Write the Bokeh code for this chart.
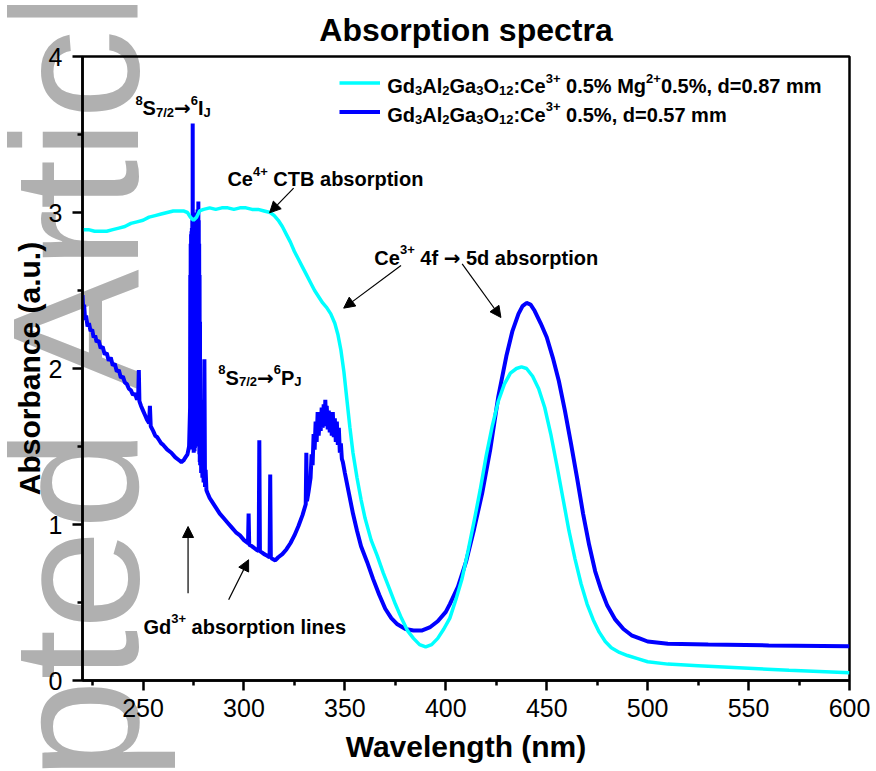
from bokeh.plotting import figure
from bokeh.models import (Range1d, Label, Arrow, NormalHead, Legend, LegendItem,
                          FixedTicker, Div)
from bokeh.layouts import column
from bokeh.embed import file_html
from bokeh.resources import INLINE

# ---------------- data ----------------
# blue: Gd3Al2Ga3O12:Ce 0.5%, d=0.57 mm
blue_wl_uv = [220.0, 220.4, 220.8, 221.3, 221.8, 222.5, 223.2, 224.0, 224.8, 225.5,
              226.3, 227.0, 228.0, 229.0, 230.0, 231.0, 232.0, 233.0, 234.0, 235.0,
              236.0, 237.0, 238.0, 239.0, 240.0, 241.0, 242.0, 243.0, 244.0, 245.0,
              246.0, 247.0, 247.6, 247.9, 248.2, 249.0, 250.0, 251.0, 252.0, 253.0,
              253.4, 253.8, 255.0, 256.0, 257.0, 258.0, 259.0, 260.0, 262.0, 264.0,
              266.0, 268.0, 269.0, 270.0, 271.0, 272.0, 272.8, 273.2]
blue_abs_uv = [2.47, 2.36, 2.41, 2.31, 2.34, 2.27, 2.29, 2.24, 2.25, 2.20,
               2.21, 2.17, 2.18, 2.13, 2.14, 2.09, 2.10, 2.05, 2.07, 2.02,
               2.03, 1.98, 1.99, 1.94, 1.95, 1.91, 1.90, 1.87, 1.86, 1.83,
               1.84, 1.80, 1.82, 1.99, 1.79, 1.76, 1.73, 1.70, 1.67, 1.65,
               1.76, 1.63, 1.60, 1.57, 1.56, 1.54, 1.52, 1.51, 1.48, 1.46,
               1.43, 1.41, 1.40, 1.41, 1.43, 1.45, 1.50, 1.70]
# Gd3+ 8S7/2 -> 6IJ line cluster
blue_wl_6i = [273.3, 273.4, 273.5, 273.6, 273.7, 273.8, 273.9, 274.0, 274.1, 274.2,
              274.3, 274.4, 274.5, 274.6, 274.7, 274.8, 274.9, 275.0, 275.1, 275.2,
              275.3, 275.4, 275.5, 275.6, 275.7, 275.8, 275.9, 276.0, 276.1, 276.2,
              276.3, 276.4, 276.5, 276.6, 276.7, 276.8, 276.9, 277.0, 277.1, 277.2,
              277.3, 277.4, 277.5, 277.6, 277.7, 277.8, 277.9, 278.0, 278.1, 278.2,
              278.3, 278.5, 278.8, 279.1, 279.4, 279.7, 280.0, 280.4, 280.7, 281.0,
              281.4]
blue_abs_6i = [1.75, 2.60, 1.55, 2.80, 1.50, 2.86, 1.48, 2.88, 1.50, 2.90,
               1.52, 2.95, 1.55, 3.57, 1.52, 2.92, 1.48, 2.90, 1.46, 2.88,
               1.50, 2.91, 1.47, 2.89, 1.49, 2.93, 1.52, 2.92, 1.50, 2.96,
               1.53, 2.98, 1.55, 3.00, 1.52, 2.97, 1.56, 3.02, 1.58, 3.00,
               1.55, 3.07, 1.52, 2.95, 1.50, 2.80, 1.45, 2.60, 1.40, 2.30,
               1.38, 1.80, 1.33, 1.65, 1.30, 1.48, 1.27, 2.06, 1.24, 1.35,
               1.22]
blue_wl_vis = [282.0, 283.0, 284.0, 286.0,
               288.0, 290.0, 292.0, 294.0, 296.0, 298.0, 300.0, 302.0, 302.3, 302.6,
               304.0, 306.0, 307.3, 307.6, 307.9, 309.0, 310.0, 311.5, 312.7, 313.0,
               313.3, 314.0, 315.5, 317.0, 319.0, 321.0, 323.0, 325.0, 327.0, 329.0,
               330.6, 330.9, 331.2, 332.0, 333.0, 333.5, 334.0, 334.5, 335.0, 335.5,
               336.0, 336.5, 337.0, 337.5, 338.0, 338.5, 339.0, 339.5, 340.0, 340.3,
               340.7, 341.0, 341.5, 342.0, 342.5, 343.0, 343.5, 344.0, 344.5, 345.0,
               345.5, 346.0, 346.5, 347.0, 347.5, 348.0, 348.5, 349.0, 350.0, 352.0,
               354.0, 356.0, 358.0, 361.0, 364.0, 367.0, 370.0, 373.0, 376.0, 380.0,
               384.0, 388.0, 392.0, 396.0, 400.0, 402.0, 406.0, 410.0, 414.0, 418.0,
               422.0, 426.0, 430.0, 433.0, 436.0, 438.0, 440.0, 442.0, 444.0, 447.0,
               450.0, 453.0, 456.0, 459.0, 462.0, 465.0, 468.0, 471.0, 474.0, 477.0,
               480.0, 484.0, 488.0, 492.0, 496.0, 500.0, 510.0, 530.0, 560.0, 600.0]
blue_abs_vis = [1.20, 1.17, 1.15, 1.11,
                1.07, 1.04, 1.01, 0.98, 0.95, 0.93, 0.90, 0.88, 1.07, 0.87,
                0.86, 0.84, 0.83, 1.54, 0.83, 0.82, 0.81, 0.80, 0.79, 1.32,
                0.79, 0.78, 0.77, 0.79, 0.81, 0.84, 0.88, 0.93, 0.99, 1.06,
                1.13, 1.46, 1.15, 1.21, 1.30, 1.45, 1.38, 1.58, 1.48, 1.66,
                1.53, 1.72, 1.57, 1.67, 1.60, 1.75, 1.62, 1.77, 1.64, 1.80,
                1.63, 1.76, 1.61, 1.73, 1.59, 1.71, 1.57, 1.72, 1.56, 1.68,
                1.53, 1.66, 1.51, 1.62, 1.46, 1.52, 1.42, 1.40, 1.33, 1.20,
                1.07, 0.96, 0.86, 0.76, 0.65, 0.55, 0.46, 0.40, 0.36, 0.33,
                0.32, 0.32, 0.34, 0.38, 0.44, 0.49, 0.60, 0.76, 0.97, 1.20,
                1.48, 1.82, 2.08, 2.24, 2.35, 2.40, 2.42, 2.41, 2.37, 2.29,
                2.20, 2.07, 1.92, 1.73, 1.52, 1.30, 1.07, 0.87, 0.70, 0.58,
                0.48, 0.39, 0.33, 0.29, 0.27, 0.25, 0.235, 0.23, 0.225, 0.22]

# cyan: Gd3Al2Ga3O12:Ce 0.5% Mg 0.5%, d=0.87 mm
cyan_wl = [220, 223, 226, 229, 232, 235, 238, 241, 244, 247, 250, 253, 256, 259,
           262, 265, 268, 270, 272, 273.5, 275, 276.5, 278, 280, 283, 286, 289,
           292, 295, 298, 301, 304, 307, 310, 313, 315, 317, 319, 321, 323, 325,
           327, 329, 331, 333, 335, 337, 339, 341, 343, 345, 346.5, 348, 349.5,
           351, 352.5, 354, 356, 358, 360, 363, 366, 369, 372, 375, 378, 381,
           384, 387, 390, 393, 396, 399, 402, 405, 408, 411, 414, 417, 420, 423,
           426, 429, 432, 435, 437.5, 440, 443, 446, 449, 452, 455, 458, 461,
           464, 467, 470, 473, 476, 479, 482, 486, 490, 495, 500, 510, 525, 540,
           555, 570, 585, 600]
cyan_abs = [2.89, 2.89, 2.88, 2.88, 2.88, 2.89, 2.90, 2.91, 2.93, 2.94, 2.95, 2.97,
            2.98, 2.99, 3.00, 3.01, 3.01, 3.01, 3.00, 2.97, 2.95, 2.97, 3.01, 3.02,
            3.03, 3.02, 3.03, 3.03, 3.02, 3.03, 3.03, 3.02, 3.02, 3.01, 3.00, 2.98,
            2.95, 2.91, 2.86, 2.81, 2.75, 2.70, 2.65, 2.60, 2.55, 2.50, 2.46, 2.42,
            2.39, 2.35, 2.29, 2.22, 2.12, 1.98, 1.80, 1.62, 1.46, 1.30, 1.16, 1.04,
            0.90, 0.80, 0.69, 0.59, 0.49, 0.40, 0.32, 0.27, 0.23, 0.215, 0.23, 0.27,
            0.33, 0.40, 0.52, 0.65, 0.83, 1.02, 1.22, 1.44, 1.63, 1.79, 1.90, 1.97,
            2.00, 2.01, 2.00, 1.95, 1.87, 1.75, 1.58, 1.38, 1.17, 0.96, 0.78, 0.62,
            0.49, 0.39, 0.31, 0.25, 0.21, 0.18, 0.16, 0.14, 0.12, 0.105, 0.095,
            0.085, 0.075, 0.065, 0.058, 0.05]

x_ticks = [250, 300, 350, 400, 450, 500, 550, 600]
x_minor = [225, 275, 325, 375, 425, 475, 525, 575]
y_ticks = [0, 1, 2, 3, 4]
y_minor = [0.5, 1.5, 2.5, 3.5]

blue_wl = blue_wl_uv + blue_wl_6i + blue_wl_vis
blue_abs = blue_abs_uv + blue_abs_6i + blue_abs_vis
assert len(blue_wl) == len(blue_abs) and len(cyan_wl) == len(cyan_abs)

CYAN = "#00FFFF"
BLUE = "#0000FF"
FONT = "Liberation Sans"
ARROW_FONT = "DejaVu Sans"

# ---------------- figure ----------------
p = figure(frame_width=767, frame_height=624,
           x_range=Range1d(220, 600), y_range=Range1d(0, 4),
           output_backend="svg", toolbar_location=None,
           min_border_left=82, min_border_right=27,
           min_border_top=55, min_border_bottom=92)
p.xgrid.visible = False
p.ygrid.visible = False
p.outline_line_color = "black"
p.outline_line_width = 2.5
p.background_fill_color = None
p.border_fill_color = None
p.styles = {"position": "relative", "z-index": "1"}

p.title.text = "Absorption spectra"
p.title.align = "center"
p.title.text_font = FONT
p.title.text_font_size = "32px"
p.title.text_font_style = "bold"
p.title.text_color = "black"
p.title.standoff = 18

for ax in (p.xaxis[0], p.yaxis[0]):
    ax.axis_line_width = 2.5
    ax.major_tick_line_width = 2.5
    ax.minor_tick_line_width = 2.5
    ax.major_tick_out = 10
    ax.major_tick_in = 0
    ax.minor_tick_out = 5
    ax.minor_tick_in = 0
    ax.major_label_text_font = FONT
    ax.major_label_text_font_size = "25px"
    ax.major_label_text_color = "black"
    ax.axis_label_text_font = FONT
    ax.axis_label_text_font_size = "30px"
    ax.axis_label_text_font_style = "bold"
    ax.axis_label_text_color = "black"

p.xaxis.ticker = FixedTicker(ticks=x_ticks, minor_ticks=x_minor)
p.yaxis.ticker = FixedTicker(ticks=y_ticks, minor_ticks=y_minor)
p.xaxis.axis_label = "Wavelength (nm)"
p.yaxis.axis_label = "Absorbance (a.u.)"
p.xaxis.major_label_standoff = 8
p.yaxis.major_label_standoff = 10
p.xaxis.axis_label_standoff = 10
p.yaxis.axis_label_standoff = 0

# data lines
rb = p.line(blue_wl, blue_abs, line_color=BLUE, line_width=4)
rc = p.line(cyan_wl, cyan_abs, line_color=CYAN, line_width=3.5)

legend = Legend(items=[LegendItem(label=" ", renderers=[rc]),
                       LegendItem(label=" ", renderers=[rb])],
                location=(257, 554), padding=0, margin=0, spacing=0,
                glyph_width=41, glyph_height=29, label_height=29, label_width=1,
                label_standoff=0, border_line_alpha=0, background_fill_alpha=0,
                label_text_font_size="1px")
p.add_layout(legend)

# ---------------- rich text helper ----------------
W = {' ': 278, '%': 889, '(': 333, ')': 333, '+': 584, ',': 278, '-': 333, '.': 278,
     '/': 278, ':': 333, '=': 584, '→': 838,
     'A': 722, 'B': 722, 'C': 722, 'G': 778, 'I': 278, 'J': 556, 'M': 833, 'O': 778,
     'P': 667, 'S': 667, 'T': 611,
     'a': 556, 'b': 611, 'c': 556, 'd': 611, 'e': 556, 'f': 333, 'g': 611, 'i': 278,
     'l': 278, 'm': 889, 'n': 611, 'o': 611, 'p': 611, 'r': 389, 's': 556, 't': 333}
for dgt in "0123456789":
    W[dgt] = 556


def tw(s, fs):
    return sum(W.get(c, 600) for c in s) * fs / 1000.0


def rich(x, y, segs, size=20):
    off = 0.0
    for txt, kind in segs:
        fs = size * 0.65 if kind in ("sub", "sup") else size
        dy = {"sub": -0.22 * size, "sup": 0.42 * size}.get(kind, 0.0)
        font = ARROW_FONT if kind == "arr" else FONT
        core_l = txt.lstrip(" ")
        off += (len(txt) - len(core_l)) * W[' '] * fs / 1000.0
        core = core_l.rstrip(" ")
        if core:
            p.add_layout(Label(x=x, y=y, x_offset=off, y_offset=dy, text=core,
                               text_font=font, text_font_style="bold",
                               text_font_size=f"{fs:.2f}px", text_color="black",
                               text_baseline="alphabetic", text_align="left"))
            off += tw(core, fs)
        off += (len(core_l) - len(core)) * W[' '] * fs / 1000.0


# legend labels
rich(371.0, 3.808, [("Gd", "n"), ("3", "sub"), ("Al", "n"), ("2", "sub"), ("Ga", "n"),
                    ("3", "sub"), ("O", "n"), ("12", "sub"), (":Ce", "n"), ("3+", "sup"),
                    (" 0.5% Mg", "n"), ("2+", "sup"), ("0.5%, d=0.87 mm", "n")])
rich(371.0, 3.626, [("Gd", "n"), ("3", "sub"), ("Al", "n"), ("2", "sub"), ("Ga", "n"),
                    ("3", "sub"), ("O", "n"), ("12", "sub"), (":Ce", "n"), ("3+", "sup"),
                    (" 0.5%, d=0.57 mm", "n")])

# annotations
rich(246.2, 3.667, [("8", "sup"), ("S", "n"), ("7/2", "sub"), ("→", "arr"),
                    ("6", "sup"), ("I", "n"), ("J", "sub")])
rich(287.3, 1.942, [("8", "sup"), ("S", "n"), ("7/2", "sub"), ("→", "arr"),
                    ("6", "sup"), ("P", "n"), ("J", "sub")])
rich(291.8, 3.212, [("Ce", "n"), ("4+", "sup"), (" CTB absorption", "n")])
rich(364.6, 2.707, [("Ce", "n"), ("3+", "sup"), (" 4f ", "n"), ("→", "arr"),
                    (" 5d absorption", "n")])
rich(250.2, 0.346, [("Gd", "n"), ("3+", "sup"), (" absorption lines", "n")])

# arrows
arrows = [(324.6, 3.156, 312.7, 2.998),
          (377.8, 2.660, 349.4, 2.387),
          (408.1, 2.671, 427.3, 2.327),
          (272.3, 0.560, 272.3, 0.987),
          (292.4, 0.517, 302.3, 0.774)]
for xs, ys, xe, ye in arrows:
    p.add_layout(Arrow(x_start=xs, y_start=ys, x_end=xe, y_end=ye,
                       line_color="black", line_width=1.2,
                       end=NormalHead(size=11, fill_color="black",
                                      line_color="black", line_width=1)))

# "Accepted Article" watermark, drawn behind the (transparent) plot canvas
wm_html = ('<div style="position:absolute; left:-19px; top:1175px; '
           'transform-origin:0 0; transform:rotate(-90deg); '
           "font-family:'Liberation Sans'; font-size:180px; line-height:1; "
           'color:#B0B0B0; white-space:nowrap;">Accepted Article</div>')
wm = Div(text=wm_html, width=876, height=771,
         styles={"position": "absolute", "left": "0px", "top": "0px",
                 "overflow": "hidden", "z-index": "0"})

layout = column(wm, p, styles={"position": "relative"})

open("out.html", "w").write(file_html(layout, INLINE))
